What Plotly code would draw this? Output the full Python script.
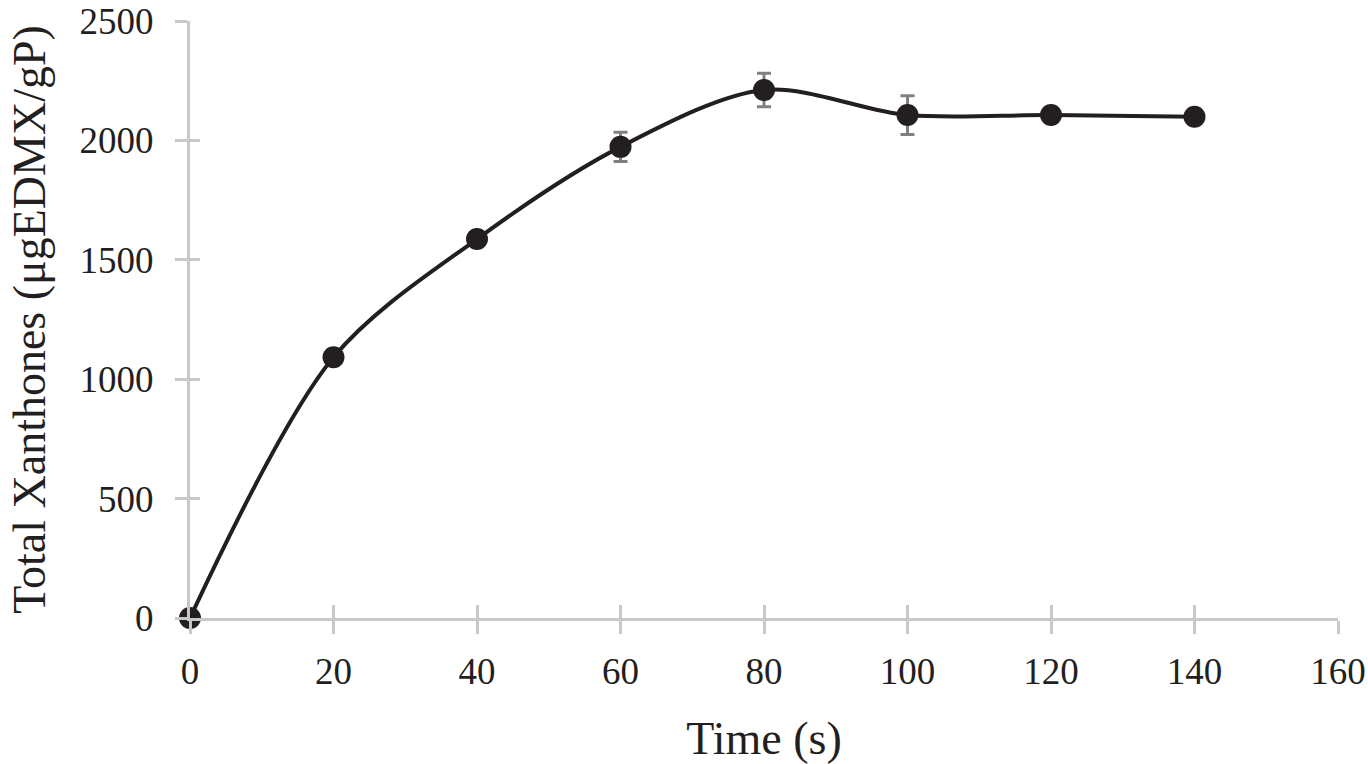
import plotly.graph_objects as go

time_s = [0, 20, 40, 60, 80, 100, 120, 140]
xanthones = [0, 1092, 1587, 1973, 2211, 2106, 2106, 2099]
err = [0, 15, 10, 61, 70, 81, 10, 10]
x_ticks = [0, 20, 40, 60, 80, 100, 120, 140, 160]
y_ticks = [0, 500, 1000, 1500, 2000, 2500]

axis_gray = "#c8c8c8"
ink = "#231f20"
font_family = "Liberation Serif, Times New Roman, serif"

fig = go.Figure()
fig.add_trace(go.Scatter(
    x=time_s, y=xanthones,
    mode="lines+markers",
    line=dict(color=ink, width=4, shape="spline", smoothing=0.9),
    marker=dict(color=ink, size=22),
    error_y=dict(type="data", array=err, color="#808080", thickness=3, width=7),
    cliponaxis=False,
    showlegend=False,
))
# invisible trace on overlay axes (used for the inner half of crossing ticks)
fig.add_trace(go.Scatter(x=[None], y=[None], xaxis="x2", yaxis="y2", showlegend=False))

fig.update_layout(
    width=1368, height=764,
    paper_bgcolor="white", plot_bgcolor="white",
    margin=dict(l=190, r=30, t=21, b=146),
    font=dict(family=font_family, color=ink, size=37),
    xaxis=dict(
        range=[0, 160], tickvals=x_ticks, ticktext=[str(v) for v in x_ticks],
        showgrid=False, zeroline=False, showline=True, linecolor=axis_gray, linewidth=3,
        ticks="outside", ticklen=13, tickwidth=3, tickcolor=axis_gray,
        tickfont=dict(size=37, color=ink), ticklabelstandoff=6, automargin=False,
        ticklabeloverflow="allow",
        title=dict(text="Time (s)", font=dict(size=46, color=ink), standoff=32),
    ),
    yaxis=dict(
        range=[0, 2500], tickvals=y_ticks, ticktext=[str(v) for v in y_ticks],
        showgrid=False, zeroline=False, showline=True, linecolor=axis_gray, linewidth=3,
        ticks="outside", ticklen=12, tickwidth=3, tickcolor=axis_gray,
        tickfont=dict(size=37, color=ink), ticklabelstandoff=14, automargin=False,
        ticklabeloverflow="allow",
        title=dict(text="Total Xanthones (μgEDMX/gP)", font=dict(size=46, color=ink), standoff=20),
    ),
    xaxis2=dict(
        range=[0, 160], tickvals=x_ticks, overlaying="x", side="bottom", anchor="y2",
        showgrid=False, zeroline=False, showline=False, showticklabels=False,
        ticks="inside", ticklen=13, tickwidth=3, tickcolor=axis_gray, automargin=False,
    ),
    yaxis2=dict(
        range=[0, 2500], tickvals=y_ticks, overlaying="y", side="left", anchor="x2",
        showgrid=False, zeroline=False, showline=False, showticklabels=False,
        ticks="inside", ticklen=10, tickwidth=3, tickcolor=axis_gray, automargin=False,
    ),
)

fig.write_html(
    "out.html",
    config={"displayModeBar": False},
    post_script="document.body.style.margin='0';document.body.style.overflow='hidden';",
)
